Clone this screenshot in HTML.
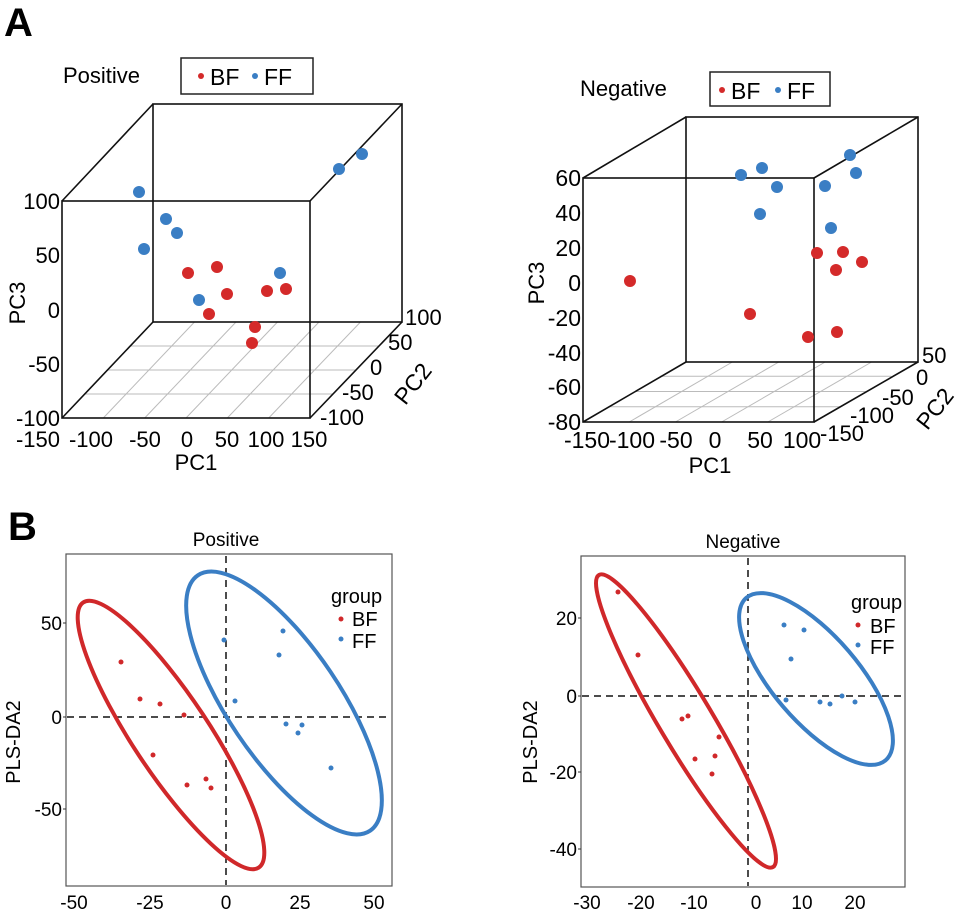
<!DOCTYPE html>
<html><head><meta charset="utf-8"><style>
html,body{margin:0;padding:0;background:#fff}
svg{display:block;font-family:"Liberation Sans",Arial,sans-serif}
</style></head><body>
<svg width="959" height="910" viewBox="0 0 959 910" xmlns="http://www.w3.org/2000/svg">
<text x="4" y="36" font-size="40" font-weight="bold">A</text>
<text x="8" y="540" font-size="40" font-weight="bold">B</text>

<!-- ===== 3D Positive ===== -->
<g>
<text x="63" y="83" font-size="22">Positive</text>
<rect x="181" y="58" width="132" height="36" fill="none" stroke="#222" stroke-width="1.5"/>
<circle cx="201" cy="76" r="3" fill="#d42a2a"/><text x="210" y="85" font-size="23">BF</text>
<circle cx="255" cy="76" r="3" fill="#3a7ec4"/><text x="264" y="85" font-size="23">FF</text>
<g stroke="#bbb" stroke-width="1">
<line x1="103.3" y1="418" x2="194.5" y2="322"/><line x1="144.7" y1="418" x2="236" y2="322"/><line x1="186" y1="418" x2="277.5" y2="322"/><line x1="227.3" y1="418" x2="319" y2="322"/><line x1="268.7" y1="418" x2="360.5" y2="322"/>
<line x1="84.8" y1="394" x2="333" y2="394"/><line x1="107.5" y1="370" x2="356" y2="370"/><line x1="130.3" y1="346" x2="379" y2="346"/>
</g>
<g stroke="#111" stroke-width="1.6" fill="none">
<rect x="153" y="104" width="249" height="218"/>
<rect x="62" y="201" width="248" height="217"/>
<line x1="62" y1="201" x2="153" y2="104"/><line x1="310" y1="201" x2="402" y2="104"/>
<line x1="62" y1="418" x2="153" y2="322"/><line x1="310" y1="418" x2="402" y2="322"/>
</g>
<g font-size="22" text-anchor="end">
<text x="60" y="209">100</text><text x="60" y="263">50</text><text x="60" y="318">0</text><text x="60" y="372">-50</text><text x="60" y="426">-100</text>
</g>
<g font-size="22" text-anchor="middle">
<text x="38" y="447">-150</text><text x="91" y="447">-100</text><text x="145" y="447">-50</text><text x="187" y="447">0</text><text x="227" y="447">50</text><text x="266" y="447">100</text><text x="309" y="447">150</text>
</g>
<text x="196" y="470" font-size="22" text-anchor="middle">PC1</text>
<text x="18" y="310" font-size="22" text-anchor="middle" transform="rotate(-90 18 303)">PC3</text>
<g font-size="22">
<text x="320" y="425">-100</text><text x="342" y="400">-50</text><text x="370" y="375">0</text><text x="388" y="350">50</text><text x="405" y="325">100</text>
</g>
<text x="412" y="392" font-size="23" text-anchor="middle" transform="rotate(-52 412 383)">PC2</text>
<g fill="#3a7ec4">
<circle cx="139" cy="192" r="6"/><circle cx="362" cy="154" r="6"/><circle cx="339" cy="169" r="6"/><circle cx="166" cy="219" r="6"/><circle cx="177" cy="233" r="6"/><circle cx="144" cy="249" r="6"/><circle cx="280" cy="273" r="6"/><circle cx="199" cy="300" r="6"/>
</g>
<g fill="#d42a2a">
<circle cx="188" cy="273" r="6"/><circle cx="217" cy="267" r="6"/><circle cx="227" cy="294" r="6"/><circle cx="267" cy="291" r="6"/><circle cx="286" cy="289" r="6"/><circle cx="209" cy="314" r="6"/><circle cx="255" cy="327" r="6"/><circle cx="252" cy="343" r="6"/>
</g>
</g>

<!-- ===== 3D Negative ===== -->
<g>
<text x="580" y="96" font-size="22">Negative</text>
<rect x="710" y="72" width="120" height="34" fill="none" stroke="#222" stroke-width="1.5"/>
<circle cx="722" cy="90" r="3" fill="#d42a2a"/><text x="731" y="99" font-size="23">BF</text>
<circle cx="778" cy="90" r="3" fill="#3a7ec4"/><text x="787" y="99" font-size="23">FF</text>
<g stroke="#bbb" stroke-width="1">
<line x1="629.2" y1="422" x2="732.4" y2="362"/><line x1="675.4" y1="422" x2="778.8" y2="362"/><line x1="721.6" y1="422" x2="825.2" y2="362"/><line x1="767.8" y1="422" x2="871.6" y2="362"/>
<line x1="608.7" y1="406.7" x2="839.7" y2="406.7"/><line x1="634.5" y1="391.5" x2="865.5" y2="391.5"/><line x1="660.2" y1="376.2" x2="891.2" y2="376.2"/>
</g>
<g stroke="#111" stroke-width="1.6" fill="none">
<rect x="686" y="117" width="232" height="245"/>
<rect x="583" y="178" width="231" height="244"/>
<line x1="583" y1="178" x2="686" y2="117"/><line x1="814" y1="178" x2="918" y2="117"/>
<line x1="583" y1="422" x2="686" y2="362"/><line x1="814" y1="422" x2="918" y2="362"/>
</g>
<g font-size="23" text-anchor="end">
<text x="581" y="186">60</text><text x="581" y="221">40</text><text x="581" y="256">20</text><text x="581" y="291">0</text><text x="581" y="326">-20</text><text x="581" y="361">-40</text><text x="581" y="395">-60</text><text x="581" y="430">-80</text>
</g>
<g font-size="23" text-anchor="middle">
<text x="587" y="448">-150</text><text x="632" y="448">-100</text><text x="676" y="448">-50</text><text x="715" y="448">0</text><text x="760" y="448">50</text><text x="802" y="448">100</text>
</g>
<text x="710" y="473" font-size="22" text-anchor="middle">PC1</text>
<text x="537" y="290" font-size="22" text-anchor="middle" transform="rotate(-90 537 283)">PC3</text>
<g font-size="22">
<text x="922" y="363">50</text><text x="916" y="385">0</text><text x="882" y="405">-50</text><text x="850" y="423">-100</text><text x="820" y="441">-150</text>
</g>
<text x="934" y="417" font-size="23" text-anchor="middle" transform="rotate(-52 934 408)">PC2</text>
<g fill="#3a7ec4">
<circle cx="741" cy="175" r="6"/><circle cx="762" cy="168" r="6"/><circle cx="777" cy="187" r="6"/><circle cx="760" cy="214" r="6"/><circle cx="850" cy="155" r="6"/><circle cx="856" cy="173" r="6"/><circle cx="825" cy="186" r="6"/><circle cx="831" cy="228" r="6"/>
</g>
<g fill="#d42a2a">
<circle cx="630" cy="281" r="6"/><circle cx="817" cy="253" r="6"/><circle cx="843" cy="252" r="6"/><circle cx="862" cy="262" r="6"/><circle cx="836" cy="270" r="6"/><circle cx="750" cy="314" r="6"/><circle cx="808" cy="337" r="6"/><circle cx="837" cy="332" r="6"/>
</g>
</g>

<!-- ===== PLS-DA Positive ===== -->
<g>
<text x="226" y="546" font-size="19" text-anchor="middle">Positive</text>
<rect x="66" y="554" width="326" height="332" fill="none" stroke="#555" stroke-width="1.2"/>
<g stroke="#111" stroke-width="1.5" stroke-dasharray="7,5">
<line x1="226" y1="556" x2="226" y2="885"/><line x1="67" y1="717" x2="391" y2="717"/>
</g>
<ellipse cx="171" cy="735" rx="159" ry="38" transform="rotate(56.5 171 735)" fill="none" stroke="#d0282a" stroke-width="4"/>
<ellipse cx="284" cy="703" rx="154" ry="56" transform="rotate(56 284 703)" fill="none" stroke="#3a7ec4" stroke-width="4"/>
<g fill="#d0282a">
<circle cx="121" cy="662" r="2.5"/><circle cx="140" cy="699" r="2.5"/><circle cx="160" cy="704" r="2.5"/><circle cx="184" cy="715" r="2.5"/><circle cx="153" cy="755" r="2.5"/><circle cx="187" cy="785" r="2.5"/><circle cx="206" cy="779" r="2.5"/><circle cx="211" cy="788" r="2.5"/>
</g>
<g fill="#3a7ec4">
<circle cx="224" cy="640" r="2.5"/><circle cx="283" cy="631" r="2.5"/><circle cx="279" cy="655" r="2.5"/><circle cx="235" cy="701" r="2.5"/><circle cx="286" cy="724" r="2.5"/><circle cx="302" cy="725" r="2.5"/><circle cx="298" cy="733" r="2.5"/><circle cx="331" cy="768" r="2.5"/>
</g>
<text x="331" y="603" font-size="20">group</text>
<circle cx="341" cy="619" r="2.5" fill="#d0282a"/><text x="352" y="626" font-size="20">BF</text>
<circle cx="341" cy="639" r="2.5" fill="#3a7ec4"/><text x="352" y="648" font-size="20">FF</text>
<g stroke="#333" stroke-width="1"><line x1="63" y1="623" x2="66" y2="623"/><line x1="63" y1="717" x2="66" y2="717"/><line x1="63" y1="809" x2="66" y2="809"/></g>
<g font-size="19" text-anchor="end"><text x="62" y="630">50</text><text x="62" y="724">0</text><text x="62" y="816">-50</text></g>
<g font-size="19" text-anchor="middle"><text x="74" y="909">-50</text><text x="150" y="909">-25</text><text x="226" y="909">0</text><text x="300" y="909">25</text><text x="374" y="909">50</text></g>
<text x="20" y="742" font-size="20" text-anchor="middle" transform="rotate(-90 20 742)">PLS-DA2</text>
</g>

<!-- ===== PLS-DA Negative ===== -->
<g>
<text x="743" y="548" font-size="19" text-anchor="middle">Negative</text>
<rect x="581" y="556" width="324" height="331" fill="none" stroke="#555" stroke-width="1.2"/>
<g stroke="#111" stroke-width="1.5" stroke-dasharray="7,5">
<line x1="748" y1="558" x2="748" y2="886"/><line x1="582" y1="696" x2="904" y2="696"/>
</g>
<ellipse cx="686" cy="721" rx="170" ry="26.5" transform="rotate(59.2 686 721)" fill="none" stroke="#d0282a" stroke-width="4"/>
<ellipse cx="816" cy="679" rx="107" ry="43" transform="rotate(49.4 816 679)" fill="none" stroke="#3a7ec4" stroke-width="4"/>
<g fill="#d0282a">
<circle cx="618" cy="592" r="2.5"/><circle cx="638" cy="655" r="2.5"/><circle cx="682" cy="719" r="2.5"/><circle cx="688" cy="716" r="2.5"/><circle cx="719" cy="737" r="2.5"/><circle cx="695" cy="759" r="2.5"/><circle cx="715" cy="756" r="2.5"/><circle cx="712" cy="774" r="2.5"/>
</g>
<g fill="#3a7ec4">
<circle cx="784" cy="625" r="2.5"/><circle cx="804" cy="630" r="2.5"/><circle cx="791" cy="659" r="2.5"/><circle cx="786" cy="700" r="2.5"/><circle cx="820" cy="702" r="2.5"/><circle cx="830" cy="704" r="2.5"/><circle cx="842" cy="696" r="2.5"/><circle cx="855" cy="702" r="2.5"/>
</g>
<text x="851" y="609" font-size="20">group</text>
<circle cx="858" cy="625" r="2.5" fill="#d0282a"/><text x="870" y="633" font-size="20">BF</text>
<circle cx="858" cy="645" r="2.5" fill="#3a7ec4"/><text x="870" y="654" font-size="20">FF</text>
<g stroke="#333" stroke-width="1"><line x1="578" y1="618" x2="581" y2="618"/><line x1="578" y1="696" x2="581" y2="696"/><line x1="578" y1="772" x2="581" y2="772"/><line x1="578" y1="849" x2="581" y2="849"/></g>
<g font-size="19" text-anchor="end"><text x="577" y="625">20</text><text x="577" y="703">0</text><text x="577" y="779">-20</text><text x="577" y="856">-40</text></g>
<g font-size="19" text-anchor="middle"><text x="587" y="909">-30</text><text x="641" y="909">-20</text><text x="694" y="909">-10</text><text x="756" y="909">0</text><text x="802" y="909">10</text><text x="855" y="909">20</text></g>
<text x="537" y="742" font-size="20" text-anchor="middle" transform="rotate(-90 537 742)">PLS-DA2</text>
</g>
</svg>
</body></html>
